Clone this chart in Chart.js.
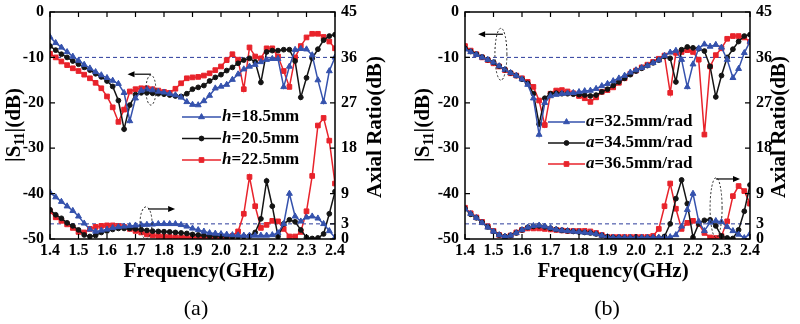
<!DOCTYPE html>
<html><head><meta charset="utf-8">
<script src="https://cdn.jsdelivr.net/npm/chart.js@4.4.0/dist/chart.umd.min.js"></script>
<style>
html,body{margin:0;padding:0;background:#fff;width:800px;height:324px;overflow:hidden}
#wrap{position:relative;width:800px;height:324px}
canvas{position:absolute;top:0}
#ca{left:0}#cb{left:400px}
</style></head>
<body><div id="wrap"><canvas id="ca" width="400" height="324"></canvas><canvas id="cb" width="400" height="324"></canvas></div>
<script>
// ---------- DATA ----------
const freqGHz = [1.40,1.42,1.44,1.46,1.48,1.50,1.52,1.54,1.56,1.58,
                 1.60,1.62,1.64,1.66,1.68,1.70,1.72,1.74,1.76,1.78,
                 1.80,1.82,1.84,1.86,1.88,1.90,1.92,1.94,1.96,1.98,
                 2.00,2.02,2.04,2.06,2.08,2.10,2.12,2.14,2.16,2.18,
                 2.20,2.22,2.24,2.26,2.28,2.30,2.32,2.34,2.36,2.38,
                 2.40];
const xTickLabels = [1.4,1.5,1.6,1.7,1.8,1.9,2.0,2.1,2.2,2.3,2.4];
const s11Ticks = [-50,-40,-30,-20,-10,0];
const arTicks = [0,3,9,18,27,36,45];

// panel (a): h = 18.5 / 20.5 / 22.5 mm
const legendA = ['18.5mm','20.5mm','22.5mm'];
const s11_h185 = [-5.5,-6.8,-7.8,-8.8,-9.8,-10.7,-11.6,-12.4,-13.2,-13.9,
                  -14.5,-15.1,-15.8,-17.8,-24.0,-19.0,-17.3,-17.0,-17.2,-17.5,
                  -17.7,-18.0,-18.3,-18.8,-19.8,-20.4,-20.5,-19.6,-18.4,-16.8,
                  -16.4,-16.0,-14.9,-13.7,-12.6,-12.0,-11.6,-11.0,-10.5,-10.3,
                  -10.3,-16.5,-12.0,-8.3,-8.1,-8.2,-9.5,-15.0,-19.8,-13.0,
                  -10.0];
const s11_h205 = [-7.5,-8.4,-9.3,-10.0,-10.8,-11.5,-12.2,-12.8,-13.6,-14.3,
                  -15.2,-16.4,-19.5,-25.8,-20.5,-18.2,-17.8,-17.8,-17.9,-18.0,
                  -18.1,-18.3,-18.5,-18.6,-18.0,-17.0,-16.6,-16.2,-15.2,-14.4,
                  -13.8,-12.9,-12.2,-11.3,-10.6,-10.2,-11.0,-15.5,-8.8,-8.5,
                  -8.5,-8.3,-8.3,-10.8,-18.8,-14.5,-10.2,-8.2,-6.2,-5.3,
                  -5.0];
const s11_h225 = [-9.2,-10.0,-10.9,-11.7,-12.4,-13.0,-13.8,-14.6,-15.6,-16.8,
                  -18.6,-21.0,-24.2,-21.5,-17.5,-17.0,-16.8,-16.8,-17.0,-17.3,
                  -17.6,-17.8,-16.9,-15.7,-14.6,-14.4,-14.3,-14.0,-13.5,-12.8,
                  -12.0,-10.6,-9.3,-10.5,-17.0,-7.8,-9.8,-10.2,-8.0,-8.0,
                  -9.8,-13.0,-16.5,-10.0,-7.5,-5.6,-4.8,-4.8,-5.5,-6.5,
                  -8.0];
const ar_h185 = [9.2,8.3,7.4,6.5,5.6,4.5,3.1,1.9,1.5,1.7,
                 1.9,2.2,2.4,2.5,2.6,2.7,2.8,2.85,2.9,3.0,
                 3.0,3.0,3.0,2.8,2.5,2.1,1.8,1.5,1.2,1.1,
                 1.0,0.9,0.8,0.75,0.7,0.7,0.7,0.7,0.7,0.8,
                 1.2,3.0,9.0,4.5,3.5,4.3,4.5,4.1,3.0,1.6,
                 0.3];
const ar_h205 = [5.8,4.8,4.1,3.2,2.6,1.8,0.8,0.5,0.7,1.3,
                 1.6,1.9,2.1,2.1,2.1,2.0,1.85,1.7,1.55,1.5,
                 1.45,1.4,1.3,1.2,1.1,0.9,0.8,0.7,0.6,0.6,
                 0.6,0.5,0.5,0.5,0.5,0.6,1.3,4.0,11.5,6.5,
                 0.5,3.0,3.8,3.4,1.8,0.3,0.1,0.2,1.0,5.0,
                 9.4];
const ar_h225 = [5.5,4.3,3.6,2.9,2.2,1.4,1.3,2.0,2.4,2.6,
                 2.7,2.7,2.6,2.4,2.0,1.6,1.3,0.9,0.7,0.6,
                 0.5,0.4,0.35,0.3,0.25,0.3,0.3,0.3,0.3,0.3,
                 0.3,0.3,0.6,1.5,5.0,12.3,6.5,2.2,2.8,3.6,
                 3.5,2.0,0.5,0.5,1.4,5.5,12.5,22.5,24.0,19.5,
                 11.0];

// panel (b): a = 32.5 / 34.5 / 36.5 mm/rad
const legendB = ['32.5mm/rad','34.5mm/rad','36.5mm/rad'];
const s11_a325 = [-8.2,-8.8,-9.4,-10.0,-10.5,-11.1,-11.9,-12.7,-13.4,-14.0,
                  -14.8,-16.0,-19.0,-27.0,-20.0,-18.5,-18.2,-18.0,-17.9,-17.8,
                  -17.6,-17.4,-17.3,-16.9,-16.3,-15.8,-15.2,-14.6,-14.0,-13.3,
                  -12.8,-12.3,-11.8,-11.2,-10.6,-9.6,-8.9,-8.5,-10.5,-16.5,
                  -11.5,-8.0,-7.1,-7.6,-7.2,-7.8,-10.5,-14.5,-12.5,-9.0,
                  -6.5];
const s11_a345 = [-8.0,-8.7,-9.3,-9.9,-10.5,-11.1,-11.9,-12.7,-13.4,-14.0,
                  -14.8,-15.7,-18.0,-24.7,-19.0,-18.0,-17.9,-18.0,-18.0,-18.1,
                  -18.2,-18.3,-18.5,-18.3,-17.6,-17.0,-16.2,-15.4,-14.6,-13.8,
                  -13.0,-12.4,-11.8,-11.2,-10.6,-9.8,-10.2,-15.4,-8.3,-7.7,
                  -7.9,-8.1,-8.6,-12.0,-18.7,-14.0,-10.0,-8.2,-6.5,-5.3,
                  -5.0];
const s11_a365 = [-7.5,-8.5,-9.3,-10.0,-10.6,-11.3,-12.0,-12.8,-13.5,-14.0,
                  -14.6,-15.4,-16.5,-19.5,-24.9,-18.0,-17.3,-17.2,-17.5,-17.9,
                  -18.5,-19.0,-19.8,-18.8,-17.6,-17.2,-16.6,-15.6,-14.6,-13.6,
                  -12.9,-12.2,-11.6,-11.0,-10.3,-9.6,-17.8,-9.0,-8.8,-8.4,
                  -8.8,-10.5,-27.0,-12.0,-9.5,-8.0,-5.9,-5.3,-5.3,-5.6,
                  -6.6];
const ar_a325 = [6.0,5.0,4.2,3.2,2.3,1.5,0.8,0.5,0.7,1.2,
                 1.8,2.3,2.6,2.7,2.5,2.2,1.9,1.7,1.6,1.5,
                 1.4,1.3,1.2,1.0,0.7,0.4,0.3,0.3,0.3,0.3,
                 0.3,0.3,0.3,0.3,0.3,0.3,0.4,0.8,2.5,5.8,
                 9.0,3.5,1.6,3.3,3.6,3.4,2.4,1.6,0.9,0.2,
                 1.0];
const ar_a345 = [6.0,4.9,4.2,3.3,2.4,1.5,0.8,0.5,0.7,1.2,
                 1.8,2.3,2.5,2.6,2.4,2.1,1.9,1.7,1.6,1.5,
                 1.4,1.3,1.2,1.0,0.7,0.4,0.3,0.25,0.2,0.2,
                 0.2,0.2,0.2,0.2,0.2,0.5,3.0,8.0,11.7,7.0,
                 0.3,3.0,3.7,3.8,2.6,0.6,0.2,0.1,1.8,5.5,
                 10.7];
const ar_a365 = [6.2,5.1,4.3,3.4,2.5,1.6,0.8,0.4,0.7,1.3,
                 1.8,2.1,2.1,2.1,2.0,1.9,1.8,1.7,1.6,1.6,
                 1.6,1.6,1.5,1.2,0.8,0.4,0.4,0.4,0.4,0.4,
                 0.4,0.4,0.4,0.6,2.0,6.5,11.0,6.0,2.0,3.2,
                 3.6,3.0,1.2,0.3,0.2,0.6,3.5,8.5,10.5,9.5,
                 7.0];

// ---------- STYLE / LAYOUT ----------
const FONT = "'Liberation Serif','Times New Roman',serif";
const BLUE = '#3552ad', BLACK = '#141414', RED = '#e8232b';
const styles = [
  {color: BLUE, marker: 'triangle', r: 3.4},
  {color: BLACK, marker: 'circle', r: 2.4},
  {color: RED, marker: 'rect', r: 3.3}
];

function pts(arr){ return freqGHz.map((f,i)=>({x:f, y:arr[i]})); }

function drawMarker(ctx, st, x, y){
  ctx.save();
  ctx.fillStyle = st.color; ctx.strokeStyle = st.color; ctx.lineWidth = 1;
  ctx.beginPath();
  if (st.marker === 'triangle') {
    const r = st.r;
    ctx.moveTo(x, y - r); ctx.lineTo(x + r*0.87, y + r*0.5); ctx.lineTo(x - r*0.87, y + r*0.5); ctx.closePath();
  } else if (st.marker === 'circle') {
    ctx.arc(x, y, st.r, 0, Math.PI*2);
  } else {
    const s = st.r*Math.SQRT1_2; ctx.rect(x - s, y - s, 2*s, 2*s);
  }
  ctx.fill(); ctx.stroke();
  ctx.restore();
}

function drawRich(ctx, parts, x, y, angle){
  ctx.save(); ctx.translate(x, y); ctx.rotate(angle);
  ctx.textAlign = 'left'; ctx.textBaseline = 'alphabetic'; ctx.fillStyle = '#000';
  let w = 0;
  parts.forEach(p => { ctx.font = p.font; w += ctx.measureText(p.t).width; });
  let cx = -w/2;
  parts.forEach(p => { ctx.font = p.font; ctx.fillText(p.t, cx, p.dy || 0); cx += ctx.measureText(p.t).width; });
  ctx.restore();
}

function arrow(ctx, x1, y1, x2, y2){
  ctx.save();
  ctx.strokeStyle = '#000'; ctx.fillStyle = '#000'; ctx.lineWidth = 1.2; ctx.setLineDash([]);
  const ang = Math.atan2(y2 - y1, x2 - x1), L = 7, H = 3;
  ctx.beginPath(); ctx.moveTo(x1, y1); ctx.lineTo(x2 - L*Math.cos(ang), y2 - L*Math.sin(ang)); ctx.stroke();
  ctx.beginPath();
  ctx.moveTo(x2, y2);
  ctx.lineTo(x2 - L*Math.cos(ang) + H*Math.sin(ang), y2 - L*Math.sin(ang) - H*Math.cos(ang));
  ctx.lineTo(x2 - L*Math.cos(ang) - H*Math.sin(ang), y2 - L*Math.sin(ang) + H*Math.cos(ang));
  ctx.closePath(); ctx.fill();
  ctx.restore();
}

function dottedEllipse(ctx, cx, cy, rx, ry){
  ctx.save();
  ctx.strokeStyle = '#222'; ctx.lineWidth = 1; ctx.setLineDash([2, 2]);
  ctx.beginPath(); ctx.ellipse(cx, cy, rx, ry, 0, 0, Math.PI*2); ctx.stroke();
  ctx.restore();
}

function makeChart(id, p){
  const datasets = [];
  p.series.forEach((s, i) => {
    const st = styles[i];
    const common = {borderColor: st.color, backgroundColor: st.color, pointBackgroundColor: st.color,
      pointBorderColor: st.color, pointStyle: st.marker, pointRadius: st.r, pointBorderWidth: 1,
      borderWidth: 1.5, tension: 0, xAxisID: 'x'};
    datasets.push(Object.assign({label: p.sym + '=' + p.legend[i] + ' S11', data: pts(s[0]), yAxisID: 'y'}, common));
    datasets.push(Object.assign({label: p.sym + '=' + p.legend[i] + ' AR', data: pts(s[1]), yAxisID: 'y1'}, common));
  });
  const tickFont = {family: FONT, weight: 'bold', size: 16};
  const noPad = s => { s.paddingTop = 0; s.paddingBottom = 0; s.paddingLeft = 0; s.paddingRight = 0; };
  const deco = {
    id: 'deco',
    beforeDatasetsDraw(chart){
      const {ctx, chartArea: a, scales} = chart;
      ctx.save();
      ctx.strokeStyle = '#2c3c9c'; ctx.lineWidth = 1; ctx.setLineDash([4, 3]);
      const y10 = scales.y.getPixelForValue(-10), y3 = scales.y1.getPixelForValue(3);
      ctx.beginPath(); ctx.moveTo(a.left, y10); ctx.lineTo(a.right, y10);
      ctx.moveTo(a.left, y3); ctx.lineTo(a.right, y3); ctx.stroke();
      ctx.restore();
    },
    afterDraw(chart){
      const {ctx, chartArea: a, scales} = chart;
      const X = v => scales.x.getPixelForValue(v), Y = v => scales.y.getPixelForValue(v), Y1 = v => scales.y1.getPixelForValue(v);
      ctx.save();
      ctx.strokeStyle = '#000'; ctx.lineWidth = 1.5; ctx.setLineDash([]);
      ctx.strokeRect(a.left, a.top, a.right - a.left, a.bottom - a.top);
      ctx.lineWidth = 1.2; ctx.beginPath();
      xTickLabels.forEach(v => { const x = X(v); ctx.moveTo(x, a.bottom); ctx.lineTo(x, a.bottom - 5); ctx.moveTo(x, a.top); ctx.lineTo(x, a.top + 5); });
      s11Ticks.forEach(v => { const y = Y(v); ctx.moveTo(a.left, y); ctx.lineTo(a.left + 5, y); });
      arTicks.forEach(v => { const y = Y1(v); ctx.moveTo(a.right, y); ctx.lineTo(a.right - 5, y); });
      ctx.stroke();
      const e1 = p.ellS11, e2 = p.ellAR;
      dottedEllipse(ctx, X(e1.f), Y(e1.v), e1.rx, e1.ry);
      arrow(ctx, X(e1.a0), Y(e1.av), X(e1.a1), Y(e1.av));
      dottedEllipse(ctx, X(e2.f), Y1(e2.v), e2.rx, e2.ry);
      arrow(ctx, X(e2.a0), Y1(e2.av), X(e2.a1), Y1(e2.av));
      p.legend.forEach((lab, i) => {
        const st = styles[i], y = p.legY[i];
        ctx.strokeStyle = st.color; ctx.lineWidth = 1.5;
        ctx.beginPath(); ctx.moveTo(p.legX0, y); ctx.lineTo(p.legX1, y); ctx.stroke();
        drawMarker(ctx, st, (p.legX0 + p.legX1)/2, y);
        ctx.fillStyle = '#000'; ctx.textBaseline = 'middle'; ctx.textAlign = 'left';
        ctx.font = 'italic bold 17px ' + FONT;
        ctx.fillText(p.sym, p.legX1 + 1, y);
        const w = ctx.measureText(p.sym).width;
        ctx.font = 'bold 17px ' + FONT;
        ctx.fillText('=' + lab, p.legX1 + 1 + w, y);
      });
      ctx.fillStyle = '#000'; ctx.textAlign = 'center'; ctx.textBaseline = 'alphabetic';
      ctx.font = 'bold 21px ' + FONT;
      ctx.fillText('Frequency(GHz)', p.xTitleX, 277);
      ctx.font = '22px ' + FONT;
      ctx.fillText(p.caption, p.capX, 315);
      drawRich(ctx, [
        {t: '|S', font: 'bold 21px ' + FONT},
        {t: '11', font: 'bold 14px ' + FONT, dy: 4},
        {t: '|(dB)', font: 'bold 21px ' + FONT}
      ], p.lTitleX, 125, -Math.PI/2);
      drawRich(ctx, [{t: 'Axial Ratio(dB)', font: 'bold 21px ' + FONT}], p.rTitleX, 127, -Math.PI/2);
      ctx.restore();
    }
  };
  return new Chart(document.getElementById(id), {
    type: 'line',
    data: {datasets},
    options: {
      responsive: false, animation: false, devicePixelRatio: 1,
      layout: {padding: {top: 12, left: 0, right: 0, bottom: 0}},
      plugins: {legend: {display: false}, tooltip: {enabled: false}},
      scales: {
        x: {type: 'linear', min: 1.4, max: 2.4,
            afterBuildTicks: s => { s.ticks = xTickLabels.map(v => ({value: v})); },
            ticks: {callback: v => Number(v).toFixed(1), font: tickFont, color: '#000', padding: 2, maxRotation: 0, autoSkip: false},
            grid: {display: false, drawTicks: false}, border: {display: false},
            afterFit: s => { s.height = 85; noPad(s); }},
        y: {position: 'left', min: -50, max: 0,
            afterBuildTicks: s => { s.ticks = s11Ticks.map(v => ({value: v})); },
            ticks: {font: tickFont, color: '#000', padding: 6},
            grid: {display: false, drawTicks: false}, border: {display: false},
            afterFit: s => { s.width = p.lw; noPad(s); }},
        y1: {position: 'right', min: 0, max: 45,
            afterBuildTicks: s => { s.ticks = arTicks.map(v => ({value: v})); },
            ticks: {font: tickFont, color: '#000', padding: 6},
            grid: {display: false, drawTicks: false}, border: {display: false},
            afterFit: s => { s.width = p.rw; noPad(s); }}
      }
    },
    plugins: [deco]
  });
}

makeChart('ca', {
  series: [[s11_h185, ar_h185], [s11_h205, ar_h205], [s11_h225, ar_h225]],
  legend: legendA, sym: 'h', lw: 50, rw: 65,
  legX0: 182, legX1: 221, legY: [117, 138.5, 160],
  xTitleX: 199, capX: 196, lTitleX: 20, rTitleX: 381, caption: '(a)',
  ellS11: {f: 1.754, v: -17.2, rx: 5, ry: 15, a0: 1.754, a1: 1.672, av: -13.7},
  ellAR: {f: 1.737, v: 3.2, rx: 6, ry: 16, a0: 1.744, a1: 1.839, av: 5.95}
});
makeChart('cb', {
  series: [[s11_a325, ar_a325], [s11_a345, ar_a345], [s11_a365, ar_a365]],
  legend: legendB, sym: 'a', lw: 65, rw: 50,
  legX0: 148, legX1: 185, legY: [122, 143, 164],
  xTitleX: 213, capX: 207, lTitleX: 29, rTitleX: 385, caption: '(b)',
  ellS11: {f: 1.526, v: -9.3, rx: 6, ry: 26, a0: 1.533, a1: 1.446, av: -4.9},
  ellAR: {f: 2.281, v: 6.2, rx: 6, ry: 30, a0: 2.281, a1: 2.365, av: 11.9}
});
</script></body></html>
